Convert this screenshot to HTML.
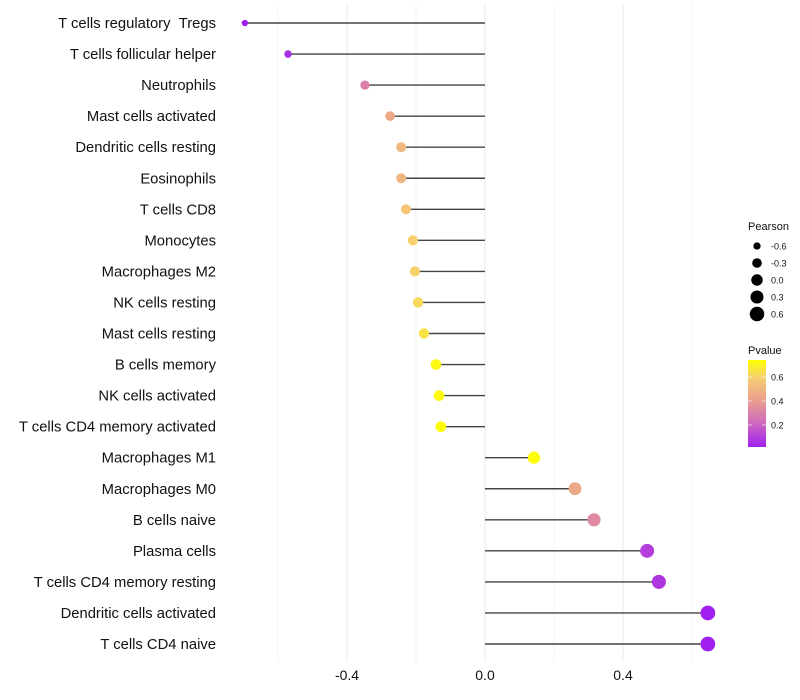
<!DOCTYPE html>
<html><head><meta charset="utf-8"><style>
body{margin:0;background:#fff;font-family:"Liberation Sans",sans-serif}
svg{display:block}
</style></head><body>
<svg id="chart" width="800" height="700">
<g id="grid"></g>
<g id="marks"></g>
<g id="ylabels"></g>
<g id="xlabels"></g>
<g id="legend"></g>
</svg>
<script>
const categories=["T cells regulatory \u00a0Tregs","T cells follicular helper","Neutrophils","Mast cells activated","Dendritic cells resting","Eosinophils","T cells CD8","Monocytes","Macrophages M2","NK cells resting","Mast cells resting","B cells memory","NK cells activated","T cells CD4 memory activated","Macrophages M1","Macrophages M0","B cells naive","Plasma cells","T cells CD4 memory resting","Dendritic cells activated","T cells CD4 naive"];
const pearson=[-0.696,-0.571,-0.348,-0.275,-0.243,-0.243,-0.229,-0.209,-0.203,-0.194,-0.177,-0.142,-0.133,-0.128,0.142,0.261,0.316,0.470,0.504,0.646,0.646];
const pvalue=[0.02,0.06,0.30,0.45,0.50,0.50,0.56,0.60,0.60,0.62,0.65,0.72,0.72,0.73,0.73,0.45,0.33,0.10,0.08,0.02,0.02];
const xTicks=[-0.4,0.0,0.4];
const xTickLabels=["-0.4","0.0","0.4"];
const sizeLegend=[-0.6,-0.3,0.0,0.3,0.6];
const colorTicks=[0.2,0.4,0.6];

const NS="http://www.w3.org/2000/svg";
const x=v=>485+v*345;
const y=i=>23+i*31.05;
const rad=v=>Math.sqrt(Math.max(3,33+33*v));
const stops=[[0,[160,32,240]],[0.3,[210,112,185]],[0.55,[234,160,140]],[0.8,[246,208,112]],[1,[255,255,0]]];
function col(p){let t=Math.max(0,Math.min(1,(p-0.02)/0.72));for(let i=1;i<stops.length;i++){if(t<=stops[i][0]){const a=stops[i-1],b=stops[i];const f=(t-a[0])/(b[0]-a[0]);const c=a[1].map((v,k)=>Math.round(v+(b[1][k]-v)*f));return `rgb(${c})`;}}return "rgb(255,255,0)";}
function mk(tag,attrs,parent){const e=document.createElementNS(NS,tag);for(const k in attrs)e.setAttribute(k,attrs[k]);parent.appendChild(e);return e;}
const grid=document.getElementById('grid');
for(let v=-0.6;v<=0.61;v+=0.2){const g=mk('line',{x1:x(v),x2:x(v),y1:5,y2:662,stroke:'#ebebeb','stroke-width':Math.abs(Math.round(v*10))%4===0?1.1:0.6},grid);

}
const marks=document.getElementById('marks'),yl=document.getElementById('ylabels');
categories.forEach((c,i)=>{
 const l=mk('line',{x1:x(0),x2:x(pearson[i]),y1:y(i),y2:y(i),stroke:'#444','stroke-width':1.4},marks);
 
 
 const d=mk('circle',{cx:x(pearson[i]),cy:y(i),r:rad(pearson[i]),fill:col(pvalue[i])},marks);
 
 
 const t=mk('text',{x:216,y:y(i)+5,'text-anchor':'end','font-size':14.8,fill:'#111'},yl);t.textContent=c;
 
 
});
const xl=document.getElementById('xlabels');
xTicks.forEach((v,i)=>{const t=mk('text',{x:x(v),y:680,'text-anchor':'middle','font-size':14,fill:'#111'},xl);t.textContent=xTickLabels[i];

});
const lg=document.getElementById('legend');
let t=mk('text',{x:748,y:230,'font-size':11,fill:'#111'},lg);t.textContent='Pearson';


sizeLegend.forEach((v,i)=>{const cy=246+i*17;const c=mk('circle',{cx:757,cy:cy,r:rad(v),fill:'#000'},lg);


const s=mk('text',{x:771,y:cy+3.5,'font-size':9,fill:'#111'},lg);s.textContent=v.toFixed(1);

});
t=mk('text',{x:748,y:354,'font-size':11,fill:'#111'},lg);t.textContent='Pvalue';


const defs=mk('defs',{},lg);const gr=mk('linearGradient',{id:'pg',x1:0,y1:1,x2:0,y2:0},defs);
stops.forEach(s=>mk('stop',{offset:s[0],'stop-color':`rgb(${s[1]})`},gr));
const bar=mk('rect',{x:748,y:360,width:18,height:87,fill:'url(#pg)'},lg);


colorTicks.forEach(p=>{const cy=449-p*120;mk('line',{x1:748,x2:752,y1:cy,y2:cy,stroke:'#fff','stroke-opacity':0.6},lg);mk('line',{x1:762,x2:766,y1:cy,y2:cy,stroke:'#fff','stroke-opacity':0.6},lg);
const s=mk('text',{x:771,y:cy+3.5,'font-size':9,fill:'#111'},lg);s.textContent=p.toFixed(1);

});
</script>
</body></html>
